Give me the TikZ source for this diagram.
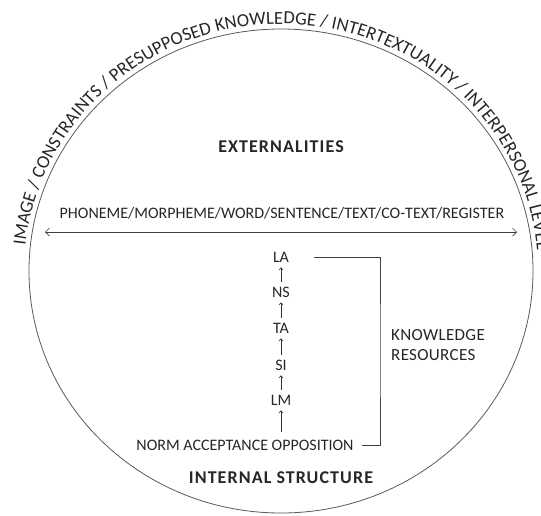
\documentclass[tikz,border=0pt]{standalone}
\usepackage{fontspec}
\setmainfont{Carlito}
\newfontfamily\widebold[LetterSpace=6]{Carlito}
\newfontfamily\wideregular[LetterSpace=2]{Carlito}
\usetikzlibrary{arrows.meta}
\newlength\arcw
\font\arcprim="Carlito" at 18.5pt
\def\arcloop#1{\ifx#1\relax\else\arcput{#1}\expandafter\arcloop\fi}
\def\arcput#1{%
  \settowidth\arcw{\arcprim #1}%
  \pgfmathsetmacro\arcspd{257*sqrt(sin(\arcang)^2+(0.96109*cos(\arcang))^2)}%
  \pgfmathsetmacro\arcmid{\arcang-deg(\arcw/2/\arcspd)}%
  \pgfmathsetmacro\arcx{281+257*cos(\arcmid)}%
  \pgfmathsetmacro\arcy{271-247*sin(\arcmid)}%
  \pgfmathsetmacro\arcrot{\arcmid-90}%
  \node[anchor=base, inner sep=0pt, rotate=\arcrot, text=black!85] at (\arcx,\arcy) {\arcprim #1};%
  \pgfmathsetmacro\arcang{\arcang-deg((\arcw+\arctrack pt)/\arcspd)}%
  \xdef\arcang{\arcang}%
}
\begin{document}
\begin{tikzpicture}[x=1pt,y=-1pt,
  txt/.style={text=black!85, inner sep=0pt, font=\fontsize{16}{18}\selectfont},
  boldtxt/.style={text=black!85, inner sep=0pt, font=\widebold\fontsize{18}{20}\selectfont\bfseries},
  lvl/.style={txt, text height=10.3pt, text depth=0pt},
  uparrow/.style={draw=black!80, line width=0.6pt, -{Straight Barb[length=2.2pt,width=4pt]}, shorten <=5pt, shorten >=5pt},
  rule/.style={draw=black!75, line width=0.7pt}
]
\useasboundingbox (0,0) rectangle (541,515);
\draw[black!65, line width=0.8pt] (281,271) ellipse [x radius=252pt, y radius=242pt];
% text along the rim
\settowidth\arcw{\arcprim IMAGE / CONSTRAINTS / PRESUPPOSED KNOWLEDGE / INTERTEXTUALITY / INTERPERSONAL LEVEL}
\pgfmathsetmacro\arctrack{(743-\arcw)/81}
\xdef\arctrack{\arctrack}
\xdef\arcang{174}
\arcloop IMAGE~/~CONSTRAINTS~/~PRESUPPOSED~KNOWLEDGE~/~INTERTEXTUALITY~/~INTERPERSONAL~LEVEL\relax
\node[boldtxt] (ext) at (281,147) {EXTERNALITIES};
\node[txt] (levels) at (282,213) {PHONEME/MORPHEME/WORD/SENTENCE/TEXT/CO-TEXT/REGISTER};
\coordinate (aL) at (45,232);
\coordinate (aR) at (517,232);
\draw[black!75, line width=0.7pt, {Straight Barb[length=4pt,width=8pt]}-{Straight Barb[length=4pt,width=8pt]}] (aL) -- (aR);
\node[lvl] (LA) at (281,257) {LA};
\node[lvl] (NS) at (281,292) {NS};
\node[lvl] (TA) at (281,328) {TA};
\node[lvl] (SI) at (281,365) {SI};
\node[lvl] (LM) at (281,400) {LM};
\node[lvl] (NAO) at (245,445) {NORM ACCEPTANCE OPPOSITION};
\draw[uparrow] (NS) -- (LA);
\draw[uparrow] (TA) -- (NS);
\draw[uparrow] (SI) -- (TA);
\draw[uparrow] (LM) -- (SI);
\draw[uparrow, shorten <=8pt] (LM.south |- NAO.north) -- (LM.south);
\coordinate (kb) at (380,350);
\draw[rule] ([xshift=25pt]LA.east) -| (kb) |- ([xshift=8pt]NAO.east);
\node[txt, font=\wideregular\fontsize{17}{20}\selectfont, align=left, anchor=west] (kr) at (391,345) {KNOWLEDGE\\RESOURCES};
\node[boldtxt] (int) at (281,478) {INTERNAL STRUCTURE};
\end{tikzpicture}
\end{document}
